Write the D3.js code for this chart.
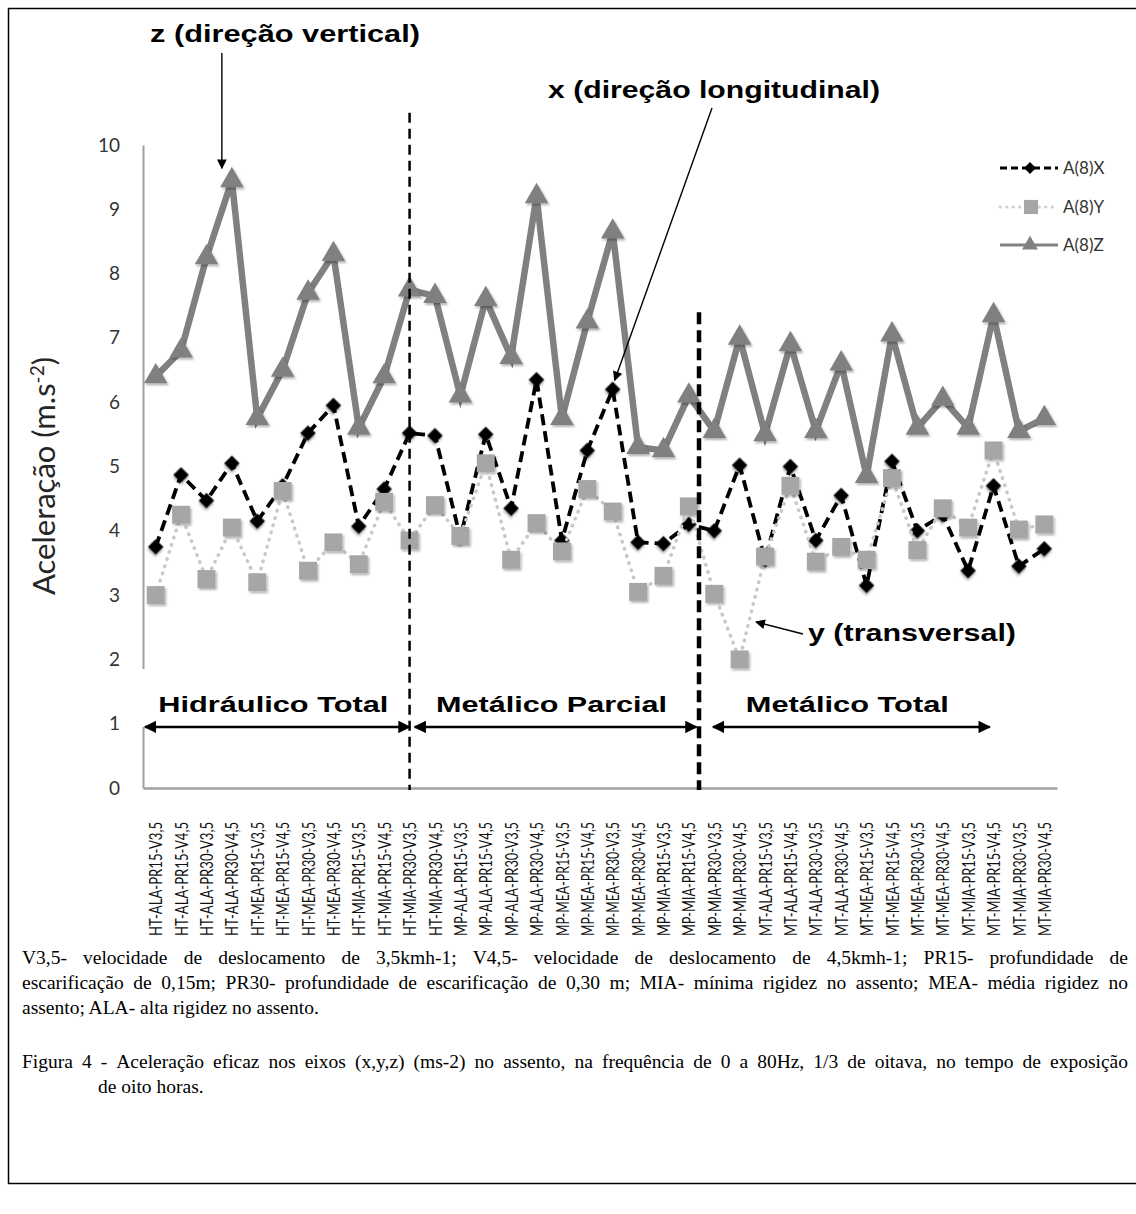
<!DOCTYPE html>
<html>
<head>
<meta charset="utf-8">
<script src="https://cdn.jsdelivr.net/npm/d3@7"></script>
<style>
  body { margin: 0; background: #fff; }
  svg { display: block; }
</style>
</head>
<body>
<svg id="chart"></svg>
<script>
// categorias (eixo x)
const categories = [
  "HT-ALA-PR15-V3,5", "HT-ALA-PR15-V4,5", "HT-ALA-PR30-V3,5", "HT-ALA-PR30-V4,5",
  "HT-MEA-PR15-V3,5", "HT-MEA-PR15-V4,5", "HT-MEA-PR30-V3,5", "HT-MEA-PR30-V4,5",
  "HT-MIA-PR15-V3,5", "HT-MIA-PR15-V4,5", "HT-MIA-PR30-V3,5", "HT-MIA-PR30-V4,5",
  "MP-ALA-PR15-V3,5", "MP-ALA-PR15-V4,5", "MP-ALA-PR30-V3,5", "MP-ALA-PR30-V4,5",
  "MP-MEA-PR15-V3,5", "MP-MEA-PR15-V4,5", "MP-MEA-PR30-V3,5", "MP-MEA-PR30-V4,5",
  "MP-MIA-PR15-V3,5", "MP-MIA-PR15-V4,5", "MP-MIA-PR30-V3,5", "MP-MIA-PR30-V4,5",
  "MT-ALA-PR15-V3,5", "MT-ALA-PR15-V4,5", "MT-ALA-PR30-V3,5", "MT-ALA-PR30-V4,5",
  "MT-MEA-PR15-V3,5", "MT-MEA-PR15-V4,5", "MT-MEA-PR30-V3,5", "MT-MEA-PR30-V4,5",
  "MT-MIA-PR15-V3,5", "MT-MIA-PR15-V4,5", "MT-MIA-PR30-V3,5", "MT-MIA-PR30-V4,5"
];

// A(8)X, A(8)Y, A(8)Z (m.s-2)
const seriesX = [3.75, 4.87, 4.47, 5.05, 4.15, 4.7, 5.52, 5.95, 4.07, 4.65, 5.52, 5.48,
                 3.9, 5.5, 4.35, 6.35, 3.85, 5.25, 6.2, 3.82, 3.8, 4.1, 4.0, 5.02,
                 3.55, 5.0, 3.85, 4.55, 3.15, 5.08, 4.0, 4.25, 3.38, 4.7, 3.45, 3.72];
const seriesY = [3.0, 4.25, 3.25, 4.05, 3.2, 4.62, 3.38, 3.82, 3.48, 4.45, 3.85, 4.4,
                 3.92, 5.05, 3.55, 4.12, 3.68, 4.65, 4.3, 3.05, 3.3, 4.38, 3.02, 2.0,
                 3.6, 4.7, 3.52, 3.75, 3.55, 4.82, 3.7, 4.35, 4.05, 5.25, 4.02, 4.1];
const seriesZ = [6.4, 6.8, 8.25, 9.45, 5.75, 6.5, 7.7, 8.3, 5.6, 6.4, 7.75, 7.65,
                 6.1, 7.6, 6.7, 9.2, 5.75, 7.25, 8.65, 5.3, 5.25, 6.1, 5.55, 7.0,
                 5.5, 6.9, 5.55, 6.6, 4.85, 7.05, 5.6, 6.05, 5.6, 7.35, 5.55, 5.75];

const yTicks = [0, 1, 2, 3, 4, 5, 6, 7, 8, 9, 10];
const seriesNames = ["A(8)X", "A(8)Y", "A(8)Z"];

// grupos (índices fracionários das categorias onde começam/terminam as setas)
const groupNames = ["Hidráulico Total", "Metálico Parcial", "Metálico Total"];
const groupFrom = [-0.42, 10.2, 21.95];
const groupTo = [10.0, 21.3, 32.85];
// linhas tracejadas verticais: índice e valor do topo
const dividerAt = [10.0, 21.4];
const dividerTop = [10.5, 7.4];

const captionLines = [
  "V3,5- velocidade de deslocamento de 3,5kmh-1; V4,5- velocidade de deslocamento de 4,5kmh-1; PR15- profundidade de",
  "escarificação de 0,15m; PR30- profundidade de escarificação de 0,30 m; MIA- mínima rigidez no assento; MEA- média rigidez no",
  "assento; ALA- alta rigidez no assento."
];
const figureLines = [
  "Figura 4 - Aceleração eficaz nos eixos (x,y,z) (ms-2) no assento, na frequência de 0 a 80Hz, 1/3 de oitava, no tempo de exposição",
  "de oito horas."
];

const width = 1136;
const height = 1214;
const plot = { left: 143, right: 1057, top: 145, bottom: 788 };

const svg = d3.select("#chart")
  .attr("width", width)
  .attr("height", height)
  .attr("viewBox", `0 0 ${width} ${height}`);

const defs = svg.append("defs");
defs.append("filter")
  .attr("id", "shadow")
  .attr("x", "-50%").attr("y", "-50%").attr("width", "200%").attr("height", "200%")
  .append("feDropShadow")
  .attr("dx", 1.5).attr("dy", 2).attr("stdDeviation", 1.3)
  .attr("flood-color", "#000").attr("flood-opacity", 0.3);

defs.append("marker")
  .attr("id", "head")
  .attr("viewBox", "0 0 10 10")
  .attr("refX", 9).attr("refY", 5)
  .attr("markerWidth", 5).attr("markerHeight", 5)
  .attr("markerUnits", "strokeWidth")
  .attr("orient", "auto-start-reverse")
  .append("path")
  .attr("d", "M0,0 L10,5 L0,10 z")
  .attr("fill", "#000");

defs.append("marker")
  .attr("id", "thinhead")
  .attr("viewBox", "0 0 10 10")
  .attr("refX", 9).attr("refY", 5)
  .attr("markerWidth", 9).attr("markerHeight", 7)
  .attr("markerUnits", "strokeWidth")
  .attr("orient", "auto")
  .append("path")
  .attr("d", "M0,0 L10,5 L0,10 z")
  .attr("fill", "#000");

// moldura
svg.append("rect")
  .attr("x", 8.5).attr("y", 8.5)
  .attr("width", 1140).attr("height", 1175)
  .attr("fill", "none")
  .attr("stroke", "#000")
  .attr("stroke-width", 1.5);

const x = d3.scalePoint()
  .domain(categories)
  .range([plot.left, plot.right])
  .padding(0.5);

const xIdx = d3.scaleLinear()
  .domain([0, categories.length - 1])
  .range([x(categories[0]), x(categories[categories.length - 1])]);

const y = d3.scaleLinear()
  .domain([0, 10])
  .range([plot.bottom, plot.top]);

const chartFont = "Lato, 'Open Sans', sans-serif";
const boldFont = "'Liberation Sans', Arial, sans-serif";

// Eixo Y
const yAxis = svg.append("g")
  .attr("transform", `translate(${plot.left},0)`)
  .call(d3.axisLeft(y).tickValues(yTicks).tickSize(0).tickPadding(23));
yAxis.select(".domain").attr("stroke", "#a0a0a0").attr("stroke-width", 2);
yAxis.selectAll("text")
  .attr("font-family", chartFont)
  .attr("font-size", 19)
  .attr("fill", "#333");

// Eixo X
const xAxis = svg.append("g")
  .attr("transform", `translate(0,${plot.bottom})`)
  .call(d3.axisBottom(x).tickSize(0).tickSizeOuter(0));
xAxis.select(".domain").attr("stroke", "#a0a0a0").attr("stroke-width", 2.5);
xAxis.selectAll("text")
  .attr("font-family", chartFont)
  .attr("font-size", 14)
  .attr("fill", "#111")
  .attr("transform", "rotate(-90) scale(1,1.25)")
  .attr("x", -34)
  .attr("y", 0)
  .attr("dy", "0.35em")
  .attr("textLength", 114)
  .attr("lengthAdjust", "spacingAndGlyphs")
  .style("text-anchor", "end");

// título do eixo Y
const yTitle = svg.append("text")
  .attr("transform", "translate(55,476) rotate(-90)")
  .attr("text-anchor", "middle")
  .attr("font-family", chartFont)
  .attr("font-size", 31)
  .attr("fill", "#262626");
yTitle.append("tspan").text("Aceleração (m.s");
yTitle.append("tspan").attr("baseline-shift", "super").attr("font-size", 19).text("-2");
yTitle.append("tspan").text(")");

// caixa branca das legendas dos grupos (corta o eixo Y como no original)
svg.append("rect")
  .attr("x", 136).attr("y", y(1.85))
  .attr("width", 16).attr("height", y(0.95) - y(1.85))
  .attr("fill", "#fff");

// Séries
const idx = d3.range(categories.length);
const line = vals => d3.line()
  .x(i => x(categories[i]))
  .y(i => y(vals[i]))(idx);

// A(8)X
svg.append("path")
  .attr("d", line(seriesX))
  .attr("fill", "none")
  .attr("stroke", "#000")
  .attr("stroke-width", 3.8)
  .attr("stroke-dasharray", "11,6");
svg.append("g").selectAll("path")
  .data(idx)
  .join("path")
  .attr("d", d3.symbol(d3.symbolSquare, 120)())
  .attr("transform", i => `translate(${x(categories[i])},${y(seriesX[i])}) rotate(45)`)
  .attr("fill", "#000")
  .attr("filter", "url(#shadow)");

// A(8)Y
svg.append("path")
  .attr("d", line(seriesY))
  .attr("fill", "none")
  .attr("stroke", "#c8c8c8")
  .attr("stroke-width", 3.5)
  .attr("stroke-linecap", "round")
  .attr("stroke-dasharray", "0.5,7");
svg.append("g").selectAll("path")
  .data(idx)
  .join("path")
  .attr("d", d3.symbol(d3.symbolSquare, 320)())
  .attr("transform", i => `translate(${x(categories[i])},${y(seriesY[i])})`)
  .attr("fill", "#a6a6a6")
  .attr("filter", "url(#shadow)");

// A(8)Z
svg.append("path")
  .attr("d", line(seriesZ))
  .attr("fill", "none")
  .attr("stroke", "#808080")
  .attr("stroke-width", 6.5)
  .attr("stroke-linejoin", "miter");
svg.append("g").selectAll("path")
  .data(idx)
  .join("path")
  .attr("d", d3.symbol(d3.symbolTriangle, 240)())
  .attr("transform", i => `translate(${x(categories[i])},${y(seriesZ[i])})`)
  .attr("fill", "#808080")
  .attr("filter", "url(#shadow)");

// Linhas divisórias tracejadas
svg.append("g").selectAll("line")
  .data(dividerAt)
  .join("line")
  .attr("x1", d => xIdx(d)).attr("x2", d => xIdx(d))
  .attr("y1", (d, i) => y(dividerTop[i]))
  .attr("y2", y(0) + 2)
  .attr("stroke", "#000")
  .attr("stroke-width", (d, i) => i === 0 ? 2.5 : 4.5)
  .attr("stroke-dasharray", (d, i) => i === 0 ? "10,6" : "12,6");

// Setas duplas dos grupos
const grp = svg.append("g");
grp.selectAll("line")
  .data(groupNames)
  .join("line")
  .attr("x1", (d, i) => xIdx(groupFrom[i]))
  .attr("x2", (d, i) => xIdx(groupTo[i]))
  .attr("y1", y(0.95)).attr("y2", y(0.95))
  .attr("stroke", "#000")
  .attr("stroke-width", 2.5)
  .attr("marker-start", "url(#head)")
  .attr("marker-end", "url(#head)");

const groupTextWidth = [230, 231, 203];
grp.selectAll("text")
  .data(groupNames)
  .join("text")
  .attr("x", (d, i) => (xIdx(groupFrom[i]) + xIdx(groupTo[i])) / 2 - 4)
  .attr("y", 712)
  .attr("text-anchor", "middle")
  .attr("font-family", boldFont)
  .attr("font-weight", "bold")
  .attr("font-size", 22)
  .attr("textLength", (d, i) => groupTextWidth[i])
  .attr("lengthAdjust", "spacingAndGlyphs")
  .text(d => d);

// Anotações com setas
function note(label, tx, ty, tw, x1, y1, x2, y2) {
  svg.append("text")
    .attr("x", tx).attr("y", ty)
    .attr("font-family", boldFont)
    .attr("font-weight", "bold")
    .attr("font-size", 23)
    .attr("textLength", tw)
    .attr("lengthAdjust", "spacingAndGlyphs")
    .text(label);
  svg.append("line")
    .attr("x1", x1).attr("y1", y1)
    .attr("x2", x2).attr("y2", y2)
    .attr("stroke", "#000")
    .attr("stroke-width", 1.4)
    .attr("marker-end", "url(#thinhead)");
}
note("z (direção vertical)", 150, 42, 270, x(categories[3]) - 10, 53, x(categories[3]) - 10, y(seriesZ[3]) - 12);
note("x (direção longitudinal)", 548, 98, 332, 712, 108, x(categories[18]) + 2, y(seriesX[18]) - 9);
note("y (transversal)", 808, 641, 208, 803, 634, 756, 622);

// Legenda
const legendY = [168, 207, 245];
const leg = svg.append("g");
leg.append("line")
  .attr("x1", 1000).attr("x2", 1058).attr("y1", legendY[0]).attr("y2", legendY[0])
  .attr("stroke", "#000").attr("stroke-width", 3).attr("stroke-dasharray", "7,4");
leg.append("path")
  .attr("d", d3.symbol(d3.symbolSquare, 70)())
  .attr("transform", `translate(1030,${legendY[0]}) rotate(45)`)
  .attr("fill", "#000");
leg.append("line")
  .attr("x1", 1000).attr("x2", 1058).attr("y1", legendY[1]).attr("y2", legendY[1])
  .attr("stroke", "#d0d0d0").attr("stroke-width", 3).attr("stroke-linecap", "round")
  .attr("stroke-dasharray", "0.5,6");
leg.append("path")
  .attr("d", d3.symbol(d3.symbolSquare, 200)())
  .attr("transform", `translate(1031,${legendY[1]})`)
  .attr("fill", "#a6a6a6");
leg.append("line")
  .attr("x1", 1000).attr("x2", 1058).attr("y1", legendY[2]).attr("y2", legendY[2])
  .attr("stroke", "#808080").attr("stroke-width", 3);
leg.append("path")
  .attr("d", d3.symbol(d3.symbolTriangle, 110)())
  .attr("transform", `translate(1030,${legendY[2]})`)
  .attr("fill", "#808080");
leg.selectAll("text")
  .data(seriesNames)
  .join("text")
  .attr("x", 1063)
  .attr("y", (d, i) => legendY[i] + 6)
  .attr("font-family", chartFont)
  .attr("font-size", 17)
  .attr("fill", "#333")
  .text(d => d);

// Texto justificado das notas
function justifyLine(str, x0, x1, yPos, justify) {
  const words = str.split(" ");
  const t = svg.append("text")
    .attr("y", yPos)
    .attr("font-family", "'Liberation Serif', 'Times New Roman', serif")
    .attr("font-size", 19.5)
    .attr("fill", "#000");
  if (!justify) {
    t.attr("x", x0).text(str);
    return;
  }
  const spans = words.map(w => t.append("tspan").text(w));
  const widths = spans.map(s => s.node().getComputedTextLength());
  const gap = (x1 - x0 - d3.sum(widths)) / (words.length - 1);
  let cx = x0;
  spans.forEach((s, i) => {
    s.attr("x", cx);
    cx += widths[i] + gap;
  });
}
justifyLine(captionLines[0], 22, 1128, 964, true);
justifyLine(captionLines[1], 22, 1128, 989, true);
justifyLine(captionLines[2], 22, 1128, 1014, false);
justifyLine(figureLines[0], 22, 1128, 1068, true);
justifyLine(figureLines[1], 98, 1128, 1093, false);
</script>
</body>
</html>
